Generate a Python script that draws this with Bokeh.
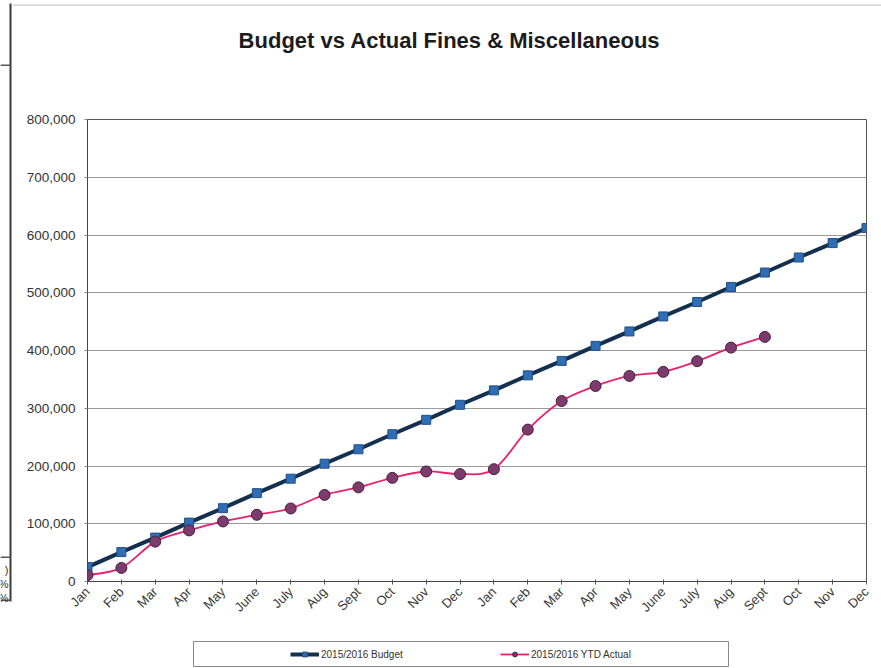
import math
import numpy as np
from bokeh.plotting import figure
from bokeh.layouts import column, row
from bokeh.models import (Range1d, FixedTicker, NumeralTickFormatter, Label,
                          Legend, LegendItem)
from bokeh.embed import file_html
from bokeh.resources import INLINE

# ---- data -------------------------------------------------------------
months = ["Jan", "Feb", "Mar", "Apr", "May", "June", "July", "Aug", "Sept",
          "Oct", "Nov", "Dec"]
tick_labels = months + months          # two fiscal years on one axis
y_ticks = [0, 100000, 200000, 300000, 400000, 500000, 600000, 700000, 800000]

budget = [25000, 51000, 76000, 102000, 127000, 153000, 178000, 204000,
          229000, 255000, 280000, 306000, 331000, 357000, 382000, 408000,
          433000, 459000, 484000, 510000, 535000, 561000, 586000, 612000]
actual = [11000, 23500, 69000, 88500, 104000, 115500, 126500, 150000,
          163000, 179500, 190500, 186000, 194500, 263000, 312500, 338500,
          356000, 363000, 381500, 405000, 423500]

series_names = ["2015/2016 Budget", "2015/2016 YTD Actual"]
title_text = "Budget vs Actual Fines & Miscellaneous"

FONT = "Liberation Sans"
BUDGET_LINE = "#14304f"
BUDGET_FILL = "#2f6db5"
BUDGET_EDGE = "#1f4f8a"
ACTUAL_LINE = "#e8216c"
ACTUAL_FILL = "#7d3a6c"
ACTUAL_EDGE = "#4a2040"

W, H = 881, 668
STRIP_W = 12        # narrow band on the left page edge
HEADER_H = 105      # band above the chart
FOOTER_H = 42       # band holding the legend
FRAME_TOP, FRAME_BOTTOM, FRAME_RIGHT = 119, 581, 866
CW = W - STRIP_W    # width of the chart column


def blank(width, height, x0, x1, y_bottom, y_top):
    """Axis-free panel whose data units are page pixels."""
    f = figure(width=width, height=height, output_backend="svg",
               toolbar_location=None, x_axis_type=None, y_axis_type=None,
               x_range=Range1d(x0, x1), y_range=Range1d(y_bottom, y_top),
               min_border=0)
    f.outline_line_color = None
    f.background_fill_color = "white"
    f.border_fill_color = "white"
    return f


# ---- left page-edge strip (table border remnants) ------------------------
strip = blank(STRIP_W, H, 0, STRIP_W, H, 0)
strip.quad(left=9, right=11, top=3, bottom=601, fill_color="#3a3a3a",
           line_color=None)
for yy in (64, 556, 599):
    strip.quad(left=0, right=10, top=yy, bottom=yy + 1.5,
               fill_color="#555555", line_color=None)
for ty, tt in [(569, ")"), (583, "%"), (597, "%")]:
    strip.add_layout(Label(x=8, y=ty, text=tt, text_align="right",
                           text_baseline="alphabetic", text_font=FONT,
                           text_font_size="11px", text_color="#333333"))

# ---- header: title and top rule ------------------------------------------
header = blank(CW, HEADER_H, STRIP_W, W, HEADER_H, 0)
header.add_layout(Label(x=449, y=40, text=title_text, text_align="center",
                        text_baseline="alphabetic", text_font=FONT,
                        text_font_size="22px", text_font_style="bold",
                        text_color="#1c1c1c"))
header.quad(left=STRIP_W, right=W, top=4, bottom=5.2, fill_color="#c8c8c8",
            line_color=None)

# ---- main chart ---------------------------------------------------------
main_h = H - HEADER_H - FOOTER_H
p = figure(width=CW, height=main_h, output_backend="svg",
           toolbar_location=None,
           x_range=Range1d(0, len(tick_labels) - 1), y_range=Range1d(0, 800000),
           min_border_left=87 - STRIP_W, min_border_right=W - FRAME_RIGHT,
           min_border_top=FRAME_TOP - HEADER_H,
           min_border_bottom=(H - FOOTER_H) - FRAME_BOTTOM)
p.background_fill_color = "white"
p.border_fill_color = "white"
p.outline_line_color = "#555555"
p.outline_line_width = 1

p.xaxis.ticker = FixedTicker(ticks=list(range(len(tick_labels))))
p.xaxis.major_label_overrides = {i: t for i, t in enumerate(tick_labels)}
p.xaxis.major_label_orientation = math.pi / 4
p.xaxis.major_label_text_font = FONT
p.xaxis.major_label_text_font_size = "13px"
p.xaxis.major_label_text_color = "#3a3a3a"
p.xaxis.major_label_standoff = 5
p.xaxis.axis_line_color = "#444444"
p.xaxis.major_tick_line_color = "#555555"
p.xaxis.major_tick_in = 2
p.xaxis.major_tick_out = 3
p.xaxis.minor_tick_line_color = None

p.yaxis.ticker = FixedTicker(ticks=y_ticks)
p.yaxis.formatter = NumeralTickFormatter(format="0,0")
p.yaxis.major_label_text_font = FONT
p.yaxis.major_label_text_font_size = "13.5px"
p.yaxis.major_label_text_color = "#333333"
p.yaxis.major_label_standoff = 9
p.yaxis.axis_line_color = "#444444"
p.yaxis.major_tick_line_color = "#888888"
p.yaxis.major_tick_in = 0
p.yaxis.major_tick_out = 3
p.yaxis.minor_tick_line_color = None

p.xgrid.visible = False
p.ygrid.grid_line_color = "#9a9a9a"
p.ygrid.grid_line_width = 1

# budget: straight line with square markers
bx = list(range(len(budget)))
p.line(bx, budget, line_color=BUDGET_LINE, line_width=4)
p.scatter(bx, budget, marker="square", size=9, fill_color=BUDGET_FILL,
          line_color=BUDGET_EDGE, line_width=1)

# actual: smoothed curve, one cubic Bezier segment between neighbouring points
ax = np.arange(len(actual), dtype=float)
ay = np.array(actual, dtype=float)
n = len(actual)
prev_i = np.r_[0, np.arange(n - 2)]            # P[i-1] (clamped at the start)
next_i = np.r_[np.arange(2, n), n - 1]         # P[i+2] (clamped at the end)
i0 = np.arange(n - 1)
i1 = i0 + 1
p.bezier(x0=ax[i0], y0=ay[i0], x1=ax[i1], y1=ay[i1],
         cx0=ax[i0] + (ax[i1] - ax[prev_i]) / 6.0,
         cy0=ay[i0] + (ay[i1] - ay[prev_i]) / 6.0,
         cx1=ax[i1] - (ax[next_i] - ax[i0]) / 6.0,
         cy1=ay[i1] - (ay[next_i] - ay[i0]) / 6.0,
         line_color=ACTUAL_LINE, line_width=1.8)
p.scatter(ax, ay, marker="circle", size=11, fill_color=ACTUAL_FILL,
          line_color=ACTUAL_EDGE, line_width=1)

# ---- footer: boxed legend -------------------------------------------------
footer = blank(CW, FOOTER_H, STRIP_W, W, H, H - FOOTER_H)
footer.quad(left=193, right=728, top=641, bottom=666, fill_color="white",
            line_color="#8a8a8a", line_width=1)
# legend keys: one point placed off the visible panel so only the key shows
off = dict(x=[-100], y=[-100])
kb_line = footer.line(line_color=BUDGET_LINE, line_width=4, **off)
kb_pts = footer.scatter(marker="square", size=7, fill_color=BUDGET_FILL,
                        line_color=BUDGET_EDGE, **off)
ka_line = footer.line(line_color=ACTUAL_LINE, line_width=1.8, **off)
ka_pts = footer.scatter(marker="circle", size=7, fill_color=ACTUAL_FILL,
                        line_color=ACTUAL_EDGE, **off)
legend = Legend(items=[LegendItem(label=series_names[0], renderers=[kb_line, kb_pts]),
                       LegendItem(label=series_names[1], renderers=[ka_line, ka_pts])],
                location=(290 - STRIP_W, H - 660), orientation="horizontal",
                glyph_width=29, glyph_height=12, label_standoff=2,
                label_width=108, spacing=71, padding=0, margin=0,
                label_text_font=FONT, label_text_font_size="10px",
                label_text_color="#333333", label_height=12,
                border_line_color=None, background_fill_alpha=0)
footer.add_layout(legend, "center")

# each band sits in its own container so the plot frames keep their own extents
layout = row(strip,
             column(row(header, spacing=0), row(p, spacing=0),
                    row(footer, spacing=0), spacing=0),
             spacing=0)

open("out.html", "w").write(file_html(layout, INLINE))
